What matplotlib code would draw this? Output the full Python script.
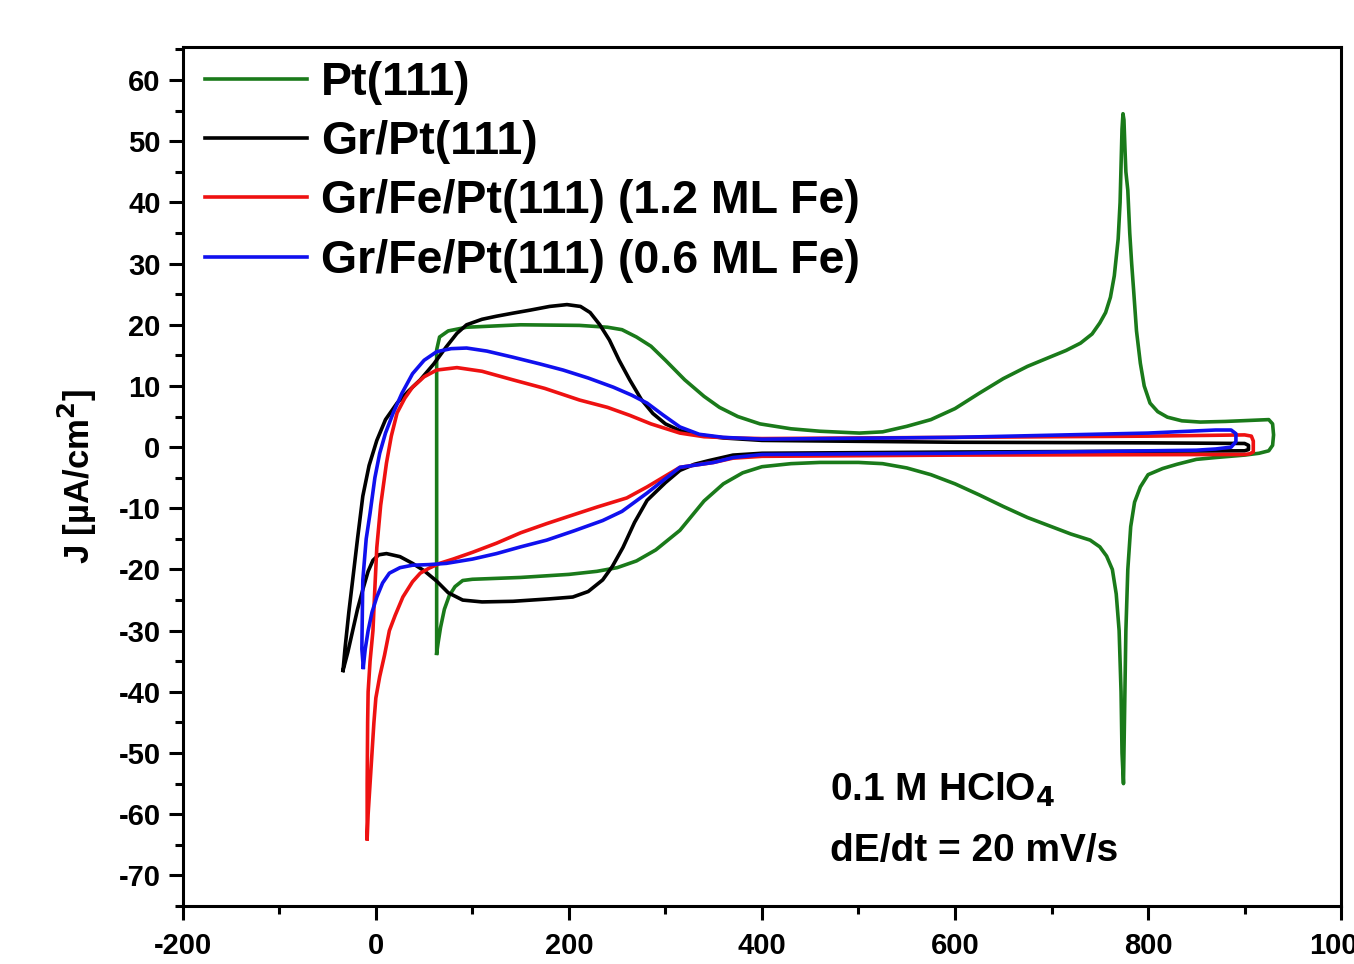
import matplotlib
matplotlib.use("Agg")
from matplotlib import pyplot as plt
from matplotlib.ticker import MultipleLocator

plt.rcParams['font.family'] = ['Liberation Sans', 'DejaVu Sans']
plt.rcParams['font.weight'] = 'bold'
plt.rcParams['axes.labelweight'] = 'bold'
plt.rcParams['mathtext.default'] = 'bf'
plt.rcParams['axes.unicode_minus'] = False

# Pt(111) - closed CV loop (anodic then cathodic), E in mV, J in uA/cm2
pt_E = [63, 63, 63, 66, 75, 94, 150, 211, 240, 255, 270, 285, 300, 320, 340, 356, 375,
        398, 430, 460, 501, 525, 550, 575, 600, 625, 650, 675, 698, 715, 730, 742, 750,
        756, 761, 765, 767, 769, 771, 772, 773, 774, 775, 776, 777, 779, 781, 783, 785,
        788, 792, 796, 802, 810, 820, 835, 854, 880, 910, 925, 929, 930, 929, 925, 915,
        900, 870, 850, 830, 815, 800, 792, 786, 782, 779, 777, 775.5, 774.5, 773, 772,
        770, 767, 763, 757, 750, 740, 720, 700, 675, 650, 625, 600, 575, 550, 525, 500,
        460, 430, 400, 380, 360, 340, 315, 290, 270, 250, 229, 200, 150, 100, 90, 82,
        76, 71, 67, 64.5, 63]
pt_J = [-33.7, -10, 15.9, 18.0, 19.0, 19.6, 20.0, 19.9, 19.6, 19.2, 18.0, 16.5, 14.2,
        11.0, 8.3, 6.5, 5.0, 3.8, 3.0, 2.6, 2.3, 2.5, 3.4, 4.5, 6.3, 8.8, 11.2, 13.2,
        14.7, 15.8, 17.0, 18.5, 20.3, 22.0, 24.5, 28.0, 31.0, 34.0, 40.0, 46.0, 52.0,
        54.5, 53.5, 49.0, 45.0, 42.0, 35.0, 30.0, 25.7, 19.0, 13.7, 10.0, 7.2, 5.8, 4.9,
        4.3, 4.1, 4.2, 4.4, 4.5, 3.8, 2.0, 0.3, -0.6, -1.0, -1.3, -1.7, -2.0, -2.8,
        -3.5, -4.5, -6.5, -9.0, -13.0, -20.0, -30.0, -45.0, -55.0, -50.0, -40.0, -30.0,
        -24.0, -20.0, -17.8, -16.3, -15.2, -14.2, -13.0, -11.5, -9.7, -7.8, -6.0, -4.5,
        -3.4, -2.7, -2.5, -2.5, -2.7, -3.2, -4.2, -6.0, -8.8, -13.6, -16.8, -18.6,
        -19.7, -20.3, -20.8, -21.3, -21.6, -21.8, -22.8, -24.3, -26.5, -29.5, -32.0,
        -33.7]

# Gr/Pt(111)
gr_E = [-34, -32, -28, -24, -19, -13.5, -7, 1, 10, 22, 34, 46, 60, 73, 84, 94, 110, 125,
        142, 160, 180, 198, 212, 222, 232, 242, 252, 263, 275, 287, 300, 315, 335, 360,
        400, 600, 800, 900, 904, 904, 900, 600, 400, 370, 345, 330, 315, 300, 281, 268,
        256, 245, 235, 220, 204, 180, 142, 110, 90, 75, 63, 50, 38, 25, 11, 3, -3, -8,
        -13, -19, -24, -29, -34]
gr_J = [-36.5, -33, -27, -21.7, -15, -8, -3, 1.1, 4.5, 7.2, 9.2, 11.0, 13.6, 16.4, 18.6,
        20.0, 20.9, 21.4, 21.9, 22.4, 23.0, 23.3, 23.0, 22.0, 20.0, 17.5, 14.2, 11.0, 7.8,
        5.5, 3.8, 2.7, 2.0, 1.5, 1.1, 0.8, 0.7, 0.6, 0.3, -0.4, -0.6, -0.8, -1.0, -1.3,
        -2.2, -2.8, -3.8, -5.8, -8.7, -12.3, -16.4, -19.5, -21.7, -23.6, -24.5, -24.8,
        -25.2, -25.3, -25.0, -23.8, -21.9, -20.2, -19.0, -17.9, -17.4, -17.6, -18.5,
        -20.3, -23.0, -26.5, -30.0, -33.5, -36.5]

# Gr/Fe/Pt(111) (1.2 ML Fe)
fe12_E = [-9, -9, -8.5, -8, -6, -3, -1, 1, 5, 11, 16, 22, 30, 38, 50, 63, 84, 110, 142,
          175, 211, 240, 263, 285, 315, 340, 370, 400, 600, 800, 900, 907, 909, 909, 905,
          900, 600, 400, 370, 350, 315, 281, 260, 229, 200, 177, 150, 125, 100, 80, 66,
          55, 46, 38, 28, 20, 14, 9, 4, 0, -2, -4, -6, -8, -9]
fe12_J = [-64, -55, -45, -40, -35, -30, -23, -16.4, -9.5, -2.6, 1.8, 5.6, 8.0, 9.8, 11.5,
          12.6, 13.0, 12.4, 11.0, 9.6, 7.7, 6.5, 5.2, 3.8, 2.3, 1.7, 1.5, 1.4, 1.6, 1.8,
          2.0, 1.8, 1.0, -0.8, -1.1, -1.2, -1.3, -1.5, -1.8, -2.5, -3.3, -6.5, -8.3,
          -9.8, -11.3, -12.5, -14.0, -15.7, -17.2, -18.3, -19.0, -19.8, -20.6, -22.0,
          -24.5, -27.5, -30.0, -34.0, -37.5, -41.0, -45.0, -50.0, -55.0, -60.0, -64]

# Gr/Fe/Pt(111) (0.6 ML Fe)
fe06_E = [-13, -14.5, -14, -13.5, -10, -6, -1, 4, 10, 18, 27, 38, 50, 63, 78, 94, 115,
          142, 170, 194, 220, 246, 265, 281, 298, 315, 335, 360, 400, 600, 800, 870, 886,
          891, 891, 886, 870, 850, 600, 400, 370, 350, 315, 281, 255, 235, 205, 177, 150,
          125, 100, 73, 55, 38, 25, 14, 7, 1, -4, -8, -11, -13]
fe06_J = [-36, -33, -27, -21.7, -15, -10.8, -5, -1, 2.3, 5.6, 8.8, 12.0, 14.2, 15.6, 16.1,
          16.2, 15.7, 14.7, 13.6, 12.6, 11.3, 9.8, 8.5, 7.2, 5.2, 3.3, 2.1, 1.6, 1.3, 1.6,
          2.3, 2.8, 2.8, 2.2, 0.9, 0.0, -0.3, -0.5, -1.0, -1.2, -1.7, -2.5, -3.3, -7.5,
          -10.5, -12.0, -13.7, -15.2, -16.3, -17.4, -18.3, -19.0, -19.2, -19.3, -19.7,
          -20.6, -22.2, -24.5, -27.0, -30.0, -33.0, -36]

labels = ['Pt(111)', 'Gr/Pt(111)', 'Gr/Fe/Pt(111) (1.2 ML Fe)', 'Gr/Fe/Pt(111) (0.6 ML Fe)']
colors = ['#1a7a1a', 'black', '#ee1111', '#1010ee']

fig = plt.figure(figsize=(13.54, 9.64), dpi=100)
ax = fig.add_axes([0.135, 0.0602, 0.8555, 0.891])

for E, J, lab, col in zip([pt_E, gr_E, fe12_E, fe06_E], [pt_J, gr_J, fe12_J, fe06_J], labels, colors):
    ax.plot(E, J, color=col, lw=2.6, label=lab, solid_joinstyle='round')

ax.set_xlim(-200, 1000)
ax.set_ylim(-75, 65.4)
ax.xaxis.set_major_locator(MultipleLocator(200))
ax.xaxis.set_minor_locator(MultipleLocator(100))
ax.yaxis.set_minor_locator(MultipleLocator(5))
ax.set_yticks(range(-70, 61, 10))
ax.tick_params(which='both', direction='out', width=2.2, labelsize=21, top=False, right=False)
ax.tick_params(which='major', length=10, pad=6)
ax.tick_params(axis='x', which='major', pad=9)
ax.tick_params(which='minor', length=6)
for s in ax.spines.values():
    s.set_linewidth(2.2)

ax.set_ylabel('J [µA/cm$^2$]', fontsize=25, fontweight='bold', labelpad=14)

leg = ax.legend(loc='upper left', bbox_to_anchor=(0.019, 0.984), frameon=False,
                fontsize=33.5, handlelength=2.2, handletextpad=0.3, labelspacing=0.33,
                borderaxespad=0, borderpad=0)
for line in leg.get_lines():
    line.set_linewidth(2.6)

ax.text(470, -56, '0.1 M HClO$_4$', fontsize=28, fontweight='bold', va='center')
ax.text(470, -66, 'dE/dt = 20 mV/s', fontsize=28, fontweight='bold', va='center')

fig.savefig('out.png', dpi=100)
